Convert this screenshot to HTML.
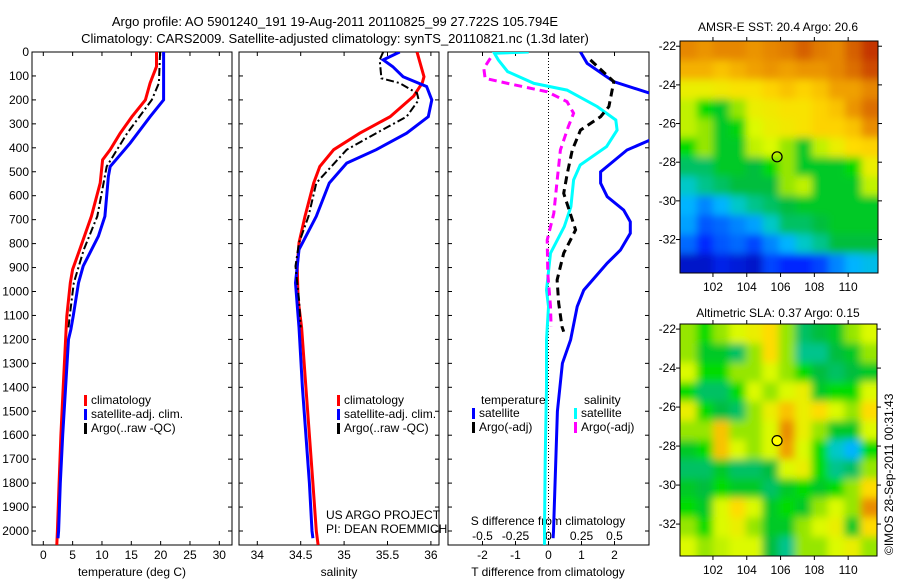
<!DOCTYPE html>
<html><head><meta charset="utf-8"><style>
html,body{margin:0;padding:0;background:#fff;}
svg{display:block;font-family:"Liberation Sans",sans-serif;}
</style></head><body>
<svg id="fig" width="900" height="580" viewBox="0 0 900 580">
<defs>
<clipPath id="c1"><rect x="32" y="52" width="200" height="493"/></clipPath>
<clipPath id="c2"><rect x="239" y="52" width="200" height="493"/></clipPath>
<clipPath id="c3"><rect x="448" y="52" width="201" height="493"/></clipPath>
<clipPath id="cm1"><rect x="680" y="41" width="198" height="232"/></clipPath>
<clipPath id="cm2"><rect x="680" y="324" width="197" height="232"/></clipPath>
<filter id="bl" x="-5%" y="-5%" width="110%" height="110%"><feGaussianBlur stdDeviation="4"/></filter>
</defs>
<text x="335" y="26" font-size="13" text-anchor="middle">Argo profile: AO 5901240_191 19-Aug-2011 20110825_99 27.722S 105.794E</text>
<text x="335" y="43" font-size="13" text-anchor="middle">Climatology: CARS2009. Satellite-adjusted climatology: synTS_20110821.nc (1.3d later)</text>
<g id="g"></g>
<text x="778" y="31" font-size="12" text-anchor="middle">AMSR-E SST: 20.4 Argo: 20.6</text>
<text x="778" y="317" font-size="12" text-anchor="middle">Altimetric SLA: 0.37 Argo: 0.15</text>
<text transform="translate(893,555) rotate(-90)" font-size="12">©IMOS 28-Sep-2011 00:31:43</text>
</svg>
<script>
// ---- data ----
const tClimDepth=[0,61,130,200,270,339,408,450,547,686,825,908,964,1103,1150,1200,1400,1600,1800,2000,2058];
const tClimVal=[19.3,19.3,18.2,17.4,15.1,13.1,11.4,10.1,9.7,8.2,6.2,5.0,4.6,4.0,3.9,3.8,3.4,3.0,2.7,2.4,2.3];
const tSatDepth=[0,100,200,270,381,478,519,686,769,894,964,1103,1158,1200,1400,1600,1800,2000,2030];
const tSatVal=[20.5,20.5,20.5,18.2,14.8,11.4,11.1,10.5,9.4,6.8,6.0,5.1,4.7,4.3,3.8,3.3,2.9,2.6,2.5];
const tArgoDepth=[0,130,200,339,478,686,825,964,1103,1150];
const tArgoVal=[19.9,19.7,18.5,14.3,10.8,9.2,6.9,5.2,4.5,4.3];
const sClimDepth=[0,103,130,185,270,339,408,478,547,686,797,894,1033,1150,1400,1600,1800,2000,2058];
const sClimVal=[35.84,35.92,35.9,35.8,35.53,35.18,34.88,34.72,34.65,34.55,34.48,34.46,34.47,34.51,34.56,34.6,34.64,34.68,34.7];
const sSatDepth=[0,33,61,103,144,200,270,339,408,464,547,686,825,964,1103,1150,1400,1600,1800,2000,2030];
const sSatVal=[35.64,35.45,35.56,35.68,35.95,36.01,35.97,35.72,35.37,35.03,34.83,34.68,34.48,34.44,34.47,34.48,34.52,34.56,34.6,34.63,34.64];
const sArgoDepth=[0,33,110,130,172,200,270,339,408,547,686,797,894,1033,1150];
const sArgoVal=[35.45,35.41,35.43,35.64,35.84,35.86,35.72,35.37,35.03,34.68,34.59,34.48,34.44,34.48,34.5];
const dTSatDepth=[0,47,124,173,250,367,409,500,548,604,660,709,757,827,882,994,1063,1202,1300,1500,2000,2030];
const dTSatVal=[0.97,1.17,1.98,3.09,3.6,3.09,2.38,1.58,1.58,1.78,2.28,2.48,2.48,2.18,1.78,1.07,0.87,0.67,0.42,0.27,0.15,0.14];
const dTArgoDepth=[33,124,228,270,326,409,507,590,743,840,952,1049,1147,1168];
const dTArgoVal=[1.27,1.98,1.83,1.58,0.97,0.72,0.57,0.46,0.82,0.46,0.26,0.31,0.41,0.46];
const dSSatDepth=[0,5,33,82,131,159,228,284,326,395,472,534,646,729,840,994,1063,1202,1400,1700,2000,2058];
const dSSatVal=[-0.15,-0.41,-0.38,-0.31,-0.11,0.14,0.37,0.51,0.52,0.44,0.24,0.19,0.17,0.12,0.015,-0.015,0,-0.015,-0.015,-0.025,-0.03,-0.03];
const dSArgoDepth=[26,68,110,131,166,207,256,312,409,534,674,785,924,1063,1147];
const dSArgoVal=[-0.44,-0.49,-0.48,-0.31,-0.01,0.14,0.19,0.15,0.09,0.066,0.04,-0.01,-0.005,0.015,0.02];
const depthTicks=[0,100,200,300,400,500,600,700,800,900,1000,1100,1200,1300,1400,1500,1600,1700,1800,1900,2000];
const tempTicks=[0,5,10,15,20,25,30];
const salTicks=[34,34.5,35,35.5,36];
const tdTicks=[-2,-1,0,1,2];
const sdTicks=[-0.5,-0.25,0,0.25,0.5];
const sdTickLabels=["-0.5","-0.25","0","0.25","0.5"];
const latTicks=[-22,-24,-26,-28,-30,-32];
const lonTicks=[102,104,106,108,110];
const sstGrid=[
[.76,.74,.76,.76,.74,.76,.78,.82,.78,.76,.82,.88],
[.7,.7,.68,.7,.72,.74,.72,.74,.74,.76,.8,.85],
[.62,.62,.63,.64,.64,.66,.68,.66,.68,.72,.72,.76],
[.58,.5,.45,.55,.62,.63,.64,.64,.66,.68,.74,.8],
[.58,.55,.45,.48,.6,.62,.63,.64,.66,.66,.68,.75],
[.5,.55,.45,.45,.58,.6,.55,.45,.58,.62,.65,.66],
[.4,.4,.45,.45,.42,.5,.55,.45,.45,.45,.5,.62],
[.35,.38,.4,.42,.42,.42,.55,.58,.45,.45,.45,.58],
[.3,.25,.3,.35,.38,.4,.42,.45,.45,.45,.45,.45],
[.28,.2,.22,.25,.28,.35,.4,.4,.42,.45,.45,.45],
[.22,.15,.2,.22,.18,.25,.3,.35,.38,.42,.42,.42],
[.08,.08,.12,.1,.08,.18,.15,.15,.18,.25,.3,.32]];
const slaGrid=[
[.55,.5,.55,.6,.62,.65,.55,.4,.42,.45,.55,.6],
[.55,.45,.45,.4,.55,.65,.55,.38,.38,.42,.45,.55],
[.6,.5,.5,.55,.55,.6,.55,.5,.42,.4,.42,.45],
[.5,.4,.4,.5,.6,.55,.6,.62,.45,.5,.5,.6],
[.62,.5,.42,.4,.55,.62,.68,.62,.65,.6,.55,.65],
[.55,.55,.68,.55,.55,.6,.75,.62,.55,.45,.45,.6],
[.45,.5,.68,.6,.55,.6,.72,.6,.5,.35,.3,.5],
[.4,.4,.45,.4,.4,.42,.6,.62,.5,.38,.4,.55],
[.45,.42,.5,.45,.45,.4,.45,.5,.45,.5,.55,.65],
[.5,.45,.6,.65,.6,.45,.5,.45,.55,.6,.55,.75],
[.55,.5,.6,.62,.55,.45,.45,.55,.6,.62,.45,.65],
[.6,.55,.58,.6,.6,.42,.38,.55,.55,.6,.62,.55]];
const argoLon=105.794, argoLat=-27.722;
// ---- scales ----
const yD=d=>52+d*0.2395;
const xT=t=>43.3+t*5.867;
const xS=s=>257.3+(s-34)*86.8;
const xTd=t=>548.5+t*33;
const xSd=s=>548.5+s*132;
const NS='http://www.w3.org/2000/svg';
const G=document.getElementById('g');
function el(tag,attrs,parent){const e=document.createElementNS(NS,tag);for(const k in attrs)e.setAttribute(k,attrs[k]);(parent||G).appendChild(e);return e;}
function txt(x,y,s,size,anchor,name){const t=el('text',{x:x,y:y,'font-size':size,'text-anchor':anchor||'start'});t.textContent=s;


return t;}
function line(depths,vals,xf,color,w,dash,clip,name){
 const pts=depths.map((d,i)=>xf(vals[i]).toFixed(1)+','+yD(d).toFixed(1)).join(' ');
 const p=el('polyline',{points:pts,fill:'none',stroke:color,'stroke-width':w,'clip-path':'url(#'+clip+')'});
 if(dash)p.setAttribute('stroke-dasharray',dash);
 
 
}
function frame(x,w,name){const r=el('rect',{x:x,y:52,width:w,height:493,fill:'none',stroke:'#000','stroke-width':1});


depthTicks.forEach(d=>{el('line',{x1:x,x2:x+4,y1:yD(d),y2:yD(d),stroke:'#000'});el('line',{x1:x+w-4,x2:x+w,y1:yD(d),y2:yD(d),stroke:'#000'});});}
frame(32,200,'temperature-panel');frame(239,200,'salinity-panel');frame(448,201,'difference-panel');
depthTicks.forEach(d=>txt(29,yD(d)+4,String(d),12,'end','depth-tick-label'));
tempTicks.forEach(t=>{el('line',{x1:xT(t),x2:xT(t),y1:545,y2:541,stroke:'#000'});el('line',{x1:xT(t),x2:xT(t),y1:52,y2:56,stroke:'#000'});txt(xT(t),559,String(t),12,'middle','temp-tick-label');});
salTicks.forEach(s=>{el('line',{x1:xS(s),x2:xS(s),y1:545,y2:541,stroke:'#000'});el('line',{x1:xS(s),x2:xS(s),y1:52,y2:56,stroke:'#000'});txt(xS(s),559,String(s),12,'middle','salinity-tick-label');});
tdTicks.forEach(t=>{el('line',{x1:xTd(t),x2:xTd(t),y1:545,y2:541,stroke:'#000'});el('line',{x1:xTd(t),x2:xTd(t),y1:52,y2:56,stroke:'#000'});txt(xTd(t),559,String(t),12,'middle','tdiff-tick-label');});
sdTicks.forEach((s,i)=>txt(xSd(s),540,sdTickLabels[i],12,'middle','sdiff-tick-label'));
txt(132,576,'temperature (deg C)',12,'middle','temperature-axis-title');
txt(339,576,'salinity',12,'middle','salinity-axis-title');
txt(548,576,'T difference from climatology',12,'middle','tdiff-axis-title');
txt(548,525,'S difference from climatology',12,'middle','sdiff-axis-title');
const z=el('line',{x1:xTd(0),x2:xTd(0),y1:52,y2:545,stroke:'#000','stroke-width':1,'stroke-dasharray':'1,2'});


line(tClimDepth,tClimVal,xT,'#f00',3,null,'c1','temp-climatology-line');
line(tSatDepth,tSatVal,xT,'#00f',3,null,'c1','temp-satellite-line');
line(tArgoDepth,tArgoVal,xT,'#000',2,'8,3,2,3','c1','temp-argo-line');
line(sClimDepth,sClimVal,xS,'#f00',3,null,'c2','sal-climatology-line');
line(sSatDepth,sSatVal,xS,'#00f',3,null,'c2','sal-satellite-line');
line(sArgoDepth,sArgoVal,xS,'#000',2,'8,3,2,3','c2','sal-argo-line');
line(dTSatDepth,dTSatVal,xTd,'#00f',3,null,'c3','tdiff-satellite-line');
line(dSSatDepth,dSSatVal,xSd,'#0ff',3,null,'c3','sdiff-satellite-line');
line(dTArgoDepth,dTArgoVal,xTd,'#000',3,'8,5','c3','tdiff-argo-line');
line(dSArgoDepth,dSArgoVal,xSd,'#f0f',3,'8,5','c3','sdiff-argo-line');
function leg(x,y,color,label,name){el('rect',{x:x,y:y-9,width:3,height:11,fill:color});txt(x+7,y,label,12,'start',name);}
[[84,'climatology','#f00'],[84,'satellite-adj. clim.','#00f'],[84,'Argo(..raw -QC)','#000']].forEach((a,i)=>leg(a[0],404+i*14,a[2],a[1],'temp-legend-entry'));
[[337,'climatology','#f00'],[337,'satellite-adj. clim.','#00f'],[337,'Argo(..raw -QC)','#000']].forEach((a,i)=>leg(a[0],404+i*14,a[2],a[1],'sal-legend-entry'));
txt(481,404,'temperature',12,'start','diff-legend-temp-header');
txt(584,404,'salinity',12,'start','diff-legend-sal-header');
leg(472,417,'#00f','satellite','diff-legend-entry');leg(472,431,'#000','Argo(-adj)','diff-legend-entry');
leg(574,417,'#0ff','satellite','diff-legend-entry');leg(574,431,'#f0f','Argo(-adj)','diff-legend-entry');
txt(326,519,'US ARGO PROJECT',12,'start','project-label');
txt(326,533,'PI: DEAN ROEMMICH',12,'start','pi-label');
const stops=[[0,[0,0,140]],[.15,[0,40,255]],[.3,[0,180,255]],[.35,[0,200,200]],[.42,[0,190,60]],[.5,[0,220,0]],[.55,[150,230,0]],[.6,[220,250,0]],[.65,[255,220,0]],[.72,[240,160,0]],[.8,[220,110,0]],[.9,[190,40,0]],[1,[150,0,0]]];
function cmap(v){for(let i=1;i<stops.length;i++){if(v<=stops[i][0]){const a=stops[i-1],b=stops[i],f=(v-a[0])/(b[0]-a[0]);return 'rgb('+a[1].map((c,k)=>Math.round(c+(b[1][k]-c)*f)).join(',')+')';}}return 'rgb(150,0,0)';}
function map(grid,x0,y0,w,h,latTop,latPx,lonLeft,lonPx,clip,name){
 const gg=el('g',{'clip-path':'url(#'+clip+')'});
 
 
 const inner=el('g',{filter:'url(#bl)'},gg);
 const rows=grid.length,cols=grid[0].length,cw=w/cols,ch=h/rows;
 el('rect',{x:x0-10,y:y0-10,width:w+20,height:h+20,fill:cmap(grid[0][0])},inner);
 grid.forEach((r,i)=>r.forEach((v,j)=>{el('rect',{x:x0+j*cw-(j==0?8:0),y:y0+i*ch-(i==0?8:0),width:cw+(j==0||j==cols-1?8:0)+0.5,height:ch+(i==0||i==rows-1?8:0)+0.5,fill:cmap(v)},inner);}));
 el('rect',{x:x0,y:y0,width:w,height:h,fill:'none',stroke:'#000'});
 latTicks.forEach(l=>{const y=y0+(latTop-l)*latPx;el('line',{x1:x0-4,x2:x0,y1:y,y2:y,stroke:'#000'});el('line',{x1:x0+w,x2:x0+w+4,y1:y,y2:y,stroke:'#000'});txt(x0-4,y+4,String(l),12,'end','lat-tick-label');});
 lonTicks.forEach(l=>{const x=x0+(l-lonLeft)*lonPx;el('line',{x1:x,x2:x,y1:y0+h,y2:y0+h+4,stroke:'#000'});el('line',{x1:x,x2:x,y1:y0-4,y2:y0,stroke:'#000'});txt(x,y0+h+18,String(l),12,'middle','lon-tick-label');});
 const m=el('circle',{cx:x0+(argoLon-lonLeft)*lonPx,cy:y0+(latTop-argoLat)*latPx,r:5,fill:name=='sla-map'?'#ff0':'none',stroke:'#000','stroke-width':1.2});
 
 
}
map(sstGrid,680,41,198,232,-21.73,19.33,100.05,16.9,'cm1','sst-map');
map(slaGrid,680,324,197,232,-21.74,19.5,100.05,16.9,'cm2','sla-map');
</script>
</body></html>
